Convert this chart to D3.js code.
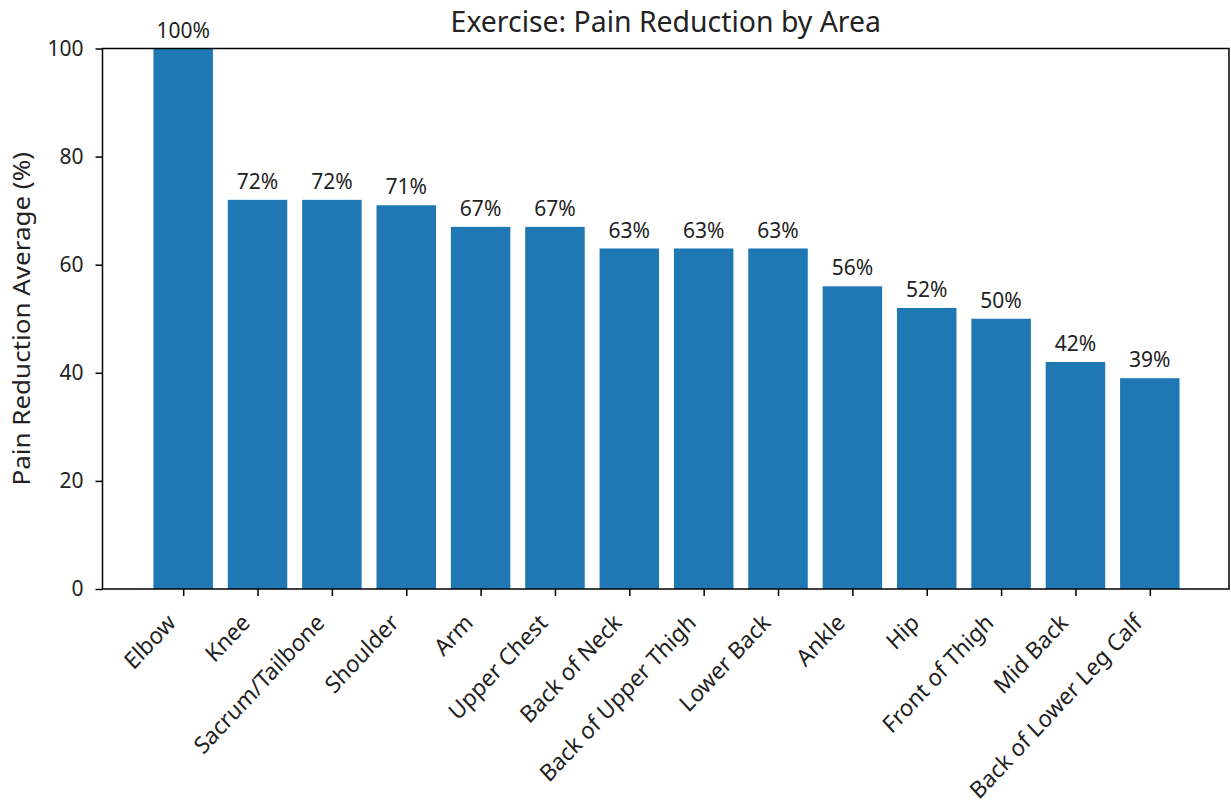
<!DOCTYPE html>
<meta charset="utf-8">
<style>
  body { margin: 0; background: #fff; }
  text { font-family: "Noto Sans", "Open Sans", sans-serif; fill: #222; }
</style>
<body>
<script src="https://cdn.jsdelivr.net/npm/d3@7"></script>
<script>

var areas = ["Elbow", "Knee", "Sacrum/Tailbone", "Shoulder", "Arm", "Upper Chest",
             "Back of Neck", "Back of Upper Thigh", "Lower Back", "Ankle", "Hip",
             "Front of Thigh", "Mid Back", "Back of Lower Leg Calf"],
    reduction = [100, 72, 72, 71, 67, 67, 63, 63, 63, 56, 52, 50, 42, 39],
    yTicks = [0, 20, 40, 60, 80, 100];

var width = 1231,
    height = 809,
    mLeft = 102.5, mRight = 1229,
    mTop = 48.5, mBottom = 589;

var fs = 21;

var svg = d3.select("body").append("svg")
    .attr("width", width)
    .attr("height", height);

// bar positions by index, bars are 0.8 wide
var x = d3.scaleLinear()
    .domain([-1.085, areas.length - 1 + 1.065])
    .range([mLeft, mRight]);

var y = d3.scaleLinear()
    .domain([0, 100])
    .range([mBottom, mTop]);

svg.selectAll(".bar")
    .data(reduction)
    .enter().append("rect")
    .attr("class", "bar")
    .attr("x", (d, i) => x(i - 0.4))
    .attr("width", x(0.4) - x(-0.4))
    .attr("y", d => y(d))
    .attr("height", d => y(0) - y(d))
    .attr("fill", "#1f77b4");

svg.selectAll(".val")
    .data(reduction)
    .enter().append("text")
    .attr("class", "val")
    .attr("x", (d, i) => x(i))
    .attr("y", d => y(d + 1) - 5.5)
    .attr("text-anchor", "middle")
    .style("font-size", fs + "px")
    .text(d => d + "%");

// y axis
var yAxis = svg.append("g")
    .attr("transform", "translate(" + mLeft + ",0)")
    .call(d3.axisLeft(y).tickValues(yTicks).tickSize(7).tickPadding(12));
yAxis.select(".domain").remove();
yAxis.selectAll("line").attr("stroke", "#000").attr("stroke-width", 1.5);
yAxis.selectAll("text").style("font-size", fs + "px").attr("fill", "#222");

// x axis
var xAxis = svg.append("g")
    .attr("transform", "translate(0," + mBottom + ")")
    .call(d3.axisBottom(x).tickValues(d3.range(areas.length)).tickSize(7).tickFormat(""));
xAxis.select(".domain").remove();
xAxis.selectAll("line").attr("stroke", "#000").attr("stroke-width", 1.5);

// rotated category labels, slightly taller than wide like the original
svg.selectAll(".xlab")
    .data(areas)
    .enter().append("text")
    .attr("class", "xlab")
    .attr("transform", (d, i) => "translate(" + (x(i) - 12) + "," + (mBottom + 29) + ") scale(1,1.07) rotate(-45)")
    .attr("text-anchor", "end")
    .attr("dominant-baseline", "central")
    .style("font-size", "22px")
    .text(d => d);

// frame
svg.append("rect")
    .attr("x", mLeft).attr("y", mTop)
    .attr("width", mRight - mLeft).attr("height", mBottom - mTop)
    .attr("fill", "none").attr("stroke", "#000").attr("stroke-width", 1.5);

svg.append("text")
    .attr("x", (mLeft + mRight) / 2)
    .attr("y", 32)
    .attr("text-anchor", "middle")
    .style("font-size", "28.4px")
    .text("Exercise: Pain Reduction by Area");

svg.append("text")
    .attr("transform", "translate(30," + (mTop + mBottom) / 2 + ") scale(1,1.13) rotate(-90)")
    .attr("text-anchor", "middle")
    .style("font-size", "23px")
    .text("Pain Reduction Average (%)");

</script>
